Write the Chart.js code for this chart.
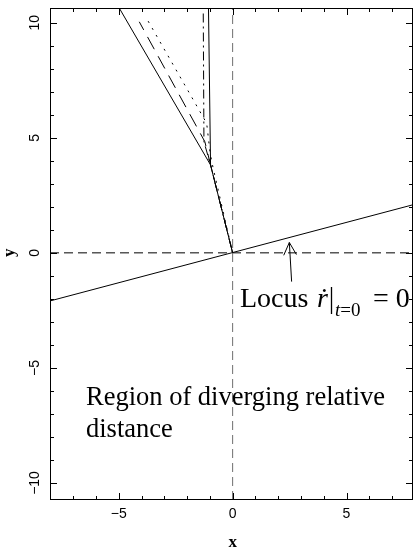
<!DOCTYPE html>
<html>
<head>
<meta charset="utf-8">
<script src="https://cdn.jsdelivr.net/npm/chart.js@4.4.0/dist/chart.umd.min.js"></script>
<style>
  html, body { margin: 0; padding: 0; background: #fff; overflow: hidden; }
  canvas { display: block; }
</style>
</head>
<body>
<canvas id="chart" width="413" height="551"></canvas>
<script>
// axis limits and labelled ticks
const xRange = [-8.02, 7.92];
const yRange = [-10.74, 10.64];
const xTickLabels = [-5, 0, 5];
const yTickLabels = [-10, -5, 0, 5, 10];

// locus where d|r|/dt = 0 at t = 0
const locusX = [-8.02, 7.92];
const locusY = [-2.09, 2.09];

// trajectories: shared leg from origin, then fanning out
const solidX = [0, -0.97, -4.98];
const solidY = [0, 3.82, 10.64];
const steepX = [-0.97, -1.06];
const steepY = [3.82, 10.64];
const dashX = [0, -0.97, -1.22, -4.10];
const dashY = [0, 3.82, 4.83, 10.04];
const dotX = [0, -0.86, -0.99, -1.14, -3.78];
const dotY = [0, 3.70, 4.34, 5.63, 10.19];
const dashDotX = [0, -0.97, -1.26, -1.29];
const dashDotY = [0, 3.82, 4.83, 10.42];

// arrow pointing at the locus (tail, tip)
const arrowX = [2.59, 2.49];
const arrowY = [-1.25, 0.45];

const pts = (xs, ys) => xs.map((v, i) => ({ x: v, y: ys[i] }));

function line(xs, ys, dash, color) {
  return {
    data: pts(xs, ys),
    showLine: true,
    borderColor: color || '#000',
    borderWidth: 1,
    borderDash: dash || [],
    pointRadius: 0,
    tension: 0
  };
}

const serif = "'Liberation Serif', 'Times New Roman', serif";
const sans = "'Liberation Sans', Arial, sans-serif";

const framePlugin = {
  id: 'frame',
  afterDatasetsDraw(chart) {
    const { ctx, chartArea: a, scales: { x, y } } = chart;
    ctx.save();
    ctx.strokeStyle = '#000';
    ctx.fillStyle = '#000';
    ctx.lineWidth = 1;
    ctx.setLineDash([]);

    // box
    ctx.strokeRect(a.left + 0.5, a.top + 0.5, a.right - a.left - 1, a.bottom - a.top - 1);

    // inward ticks on all four sides
    ctx.beginPath();
    for (let i = Math.ceil(xRange[0]); i <= Math.floor(xRange[1]); i++) {
      if (i === -8) continue;
      const px = Math.round(x.getPixelForValue(i)) + 0.5;
      const len = i % 5 === 0 ? 7 : 4;
      ctx.moveTo(px, a.bottom); ctx.lineTo(px, a.bottom - len);
      ctx.moveTo(px, a.top); ctx.lineTo(px, a.top + len);
    }
    for (let j = Math.ceil(yRange[0]); j <= Math.floor(yRange[1]); j++) {
      const py = Math.round(y.getPixelForValue(j)) + 0.5;
      const len = j % 5 === 0 ? 7 : 4;
      ctx.moveTo(a.left, py); ctx.lineTo(a.left + len, py);
      ctx.moveTo(a.right, py); ctx.lineTo(a.right - len, py);
    }
    ctx.stroke();

    // tick labels
    ctx.font = '14px ' + sans;
    ctx.textAlign = 'center';
    ctx.textBaseline = 'middle';
    xTickLabels.forEach(v => {
      ctx.fillText(String(v).replace('-', '\u2212'), x.getPixelForValue(v), 514);
    });
    yTickLabels.forEach(v => {
      ctx.save();
      ctx.translate(35, y.getPixelForValue(v));
      ctx.rotate(-Math.PI / 2);
      ctx.fillText(String(v).replace('-', '\u2212'), 0, 0);
      ctx.restore();
    });

    // axis titles
    ctx.font = 'bold 17px ' + serif;
    ctx.fillText('x', x.getPixelForValue(0), 543);
    ctx.save();
    ctx.translate(10, y.getPixelForValue(0));
    ctx.rotate(-Math.PI / 2);
    ctx.fillText('y', 0, 0);
    ctx.restore();

    // arrow to the locus
    const tx = x.getPixelForValue(arrowX[0]), ty = y.getPixelForValue(arrowY[0]);
    const hx = x.getPixelForValue(arrowX[1]), hy = y.getPixelForValue(arrowY[1]);
    const ang = Math.atan2(hy - ty, hx - tx);
    const head = 14, spread = 27 * Math.PI / 180;
    ctx.beginPath();
    ctx.moveTo(tx, ty); ctx.lineTo(hx, hy);
    ctx.moveTo(hx - head * Math.cos(ang - spread), hy - head * Math.sin(ang - spread));
    ctx.lineTo(hx, hy);
    ctx.lineTo(hx - head * Math.cos(ang + spread), hy - head * Math.sin(ang + spread));
    ctx.stroke();

    // annotation: Locus  r-dot |_{t=0} = 0
    ctx.textAlign = 'left';
    ctx.textBaseline = 'alphabetic';
    ctx.font = '28px ' + serif;
    ctx.fillText('Locus', 240, 307);
    ctx.fillText('= 0', 373, 307);
    ctx.font = 'italic 28px ' + serif;
    ctx.fillText('\u1E59', 317, 307);
    ctx.beginPath();
    ctx.lineWidth = 1.3;
    ctx.moveTo(331.5, 287); ctx.lineTo(331.5, 314);
    ctx.stroke();
    ctx.font = 'italic 19px ' + serif;
    ctx.fillText('t', 335, 316);
    const tw = ctx.measureText('t').width;
    ctx.font = '19px ' + serif;
    ctx.fillText('=0', 335 + tw, 316);

    // annotation: region label
    ctx.font = '26.5px ' + serif;
    ctx.fillText('Region of diverging relative', 86, 405);
    ctx.fillText('distance', 86, 437);

    ctx.restore();
  }
};

new Chart(document.getElementById('chart'), {
  type: 'scatter',
  data: {
    datasets: [
      line([0, 0], [yRange[0], yRange[1]], [9, 5], '#6e6e6e'),
      line([xRange[0], xRange[1]], [0, 0], [9, 5]),
      line(locusX, locusY),
      line(solidX, solidY),
      line(steepX, steepY),
      line(dashX, dashY, [14, 8]),
      line(dotX, dotY, [2, 6]),
      line(dashDotX, dashDotY, [2, 4, 9, 4])
    ]
  },
  options: {
    responsive: false,
    animation: false,
    devicePixelRatio: 1,
    layout: { padding: { left: 50, right: 0, top: 8, bottom: 51 } },
    plugins: { legend: { display: false }, tooltip: { enabled: false } },
    scales: {
      x: { type: 'linear', min: xRange[0], max: xRange[1], display: false },
      y: { type: 'linear', min: yRange[0], max: yRange[1], display: false }
    }
  },
  plugins: [framePlugin]
});
</script>
</body>
</html>
